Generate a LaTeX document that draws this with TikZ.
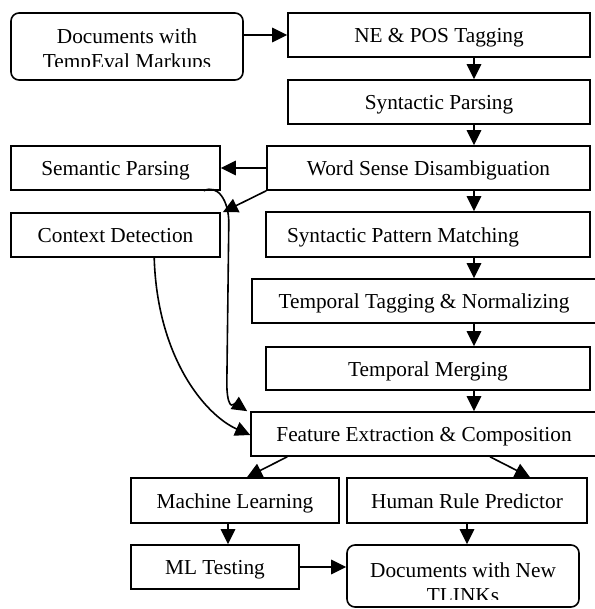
\documentclass[tikz,border=0pt]{standalone}
\usepackage{fontspec}
\setmainfont{Liberation Serif}
\usetikzlibrary{arrows.meta,calc}
\begin{document}
\begin{tikzpicture}[x=1pt,y=-1pt,
  box/.style={draw, line width=1.6pt, inner sep=0pt, minimum height=44pt, text height=16pt, text depth=1pt, font=\fontsize{21.3}{25}\selectfont},
  rbox/.style={draw, line width=1.6pt, inner sep=0pt, rounded corners=8pt},
  txt/.style={inner sep=0pt, align=center, font=\fontsize{21.3}{25}\selectfont},
  arr/.style={line width=1.6pt, -{Triangle[length=15pt,width=14.5pt]}}]
\useasboundingbox (0,0) rectangle (594,609);
% boxes
\node[rbox, minimum width=232pt, minimum height=67pt] (docs) at (127,46.5) {};
\begin{scope}
  \clip (11,13) rectangle (243,67);
  \node[txt] (docst) at (127,51) {Documents with\\TempEval Markups};
\end{scope}
\node[box, minimum width=302pt] (ne) at (439,35) {NE \& POS Tagging};
\node[box, minimum width=302pt] (syn) at (439,102) {Syntactic Parsing};
\node[box, minimum width=323pt] (wsd) at (428.5,168) {Word Sense Disambiguation};
\node[box, minimum width=209pt] (sem) at (115.5,168) {Semantic Parsing};
\node[box, minimum width=209pt] (ctx) at (115.5,235) {Context Detection};
\node[box, minimum width=324pt, minimum height=45pt, text width=282pt, align=flush left, inner xsep=21pt] (spm) at (428,234.5) {Syntactic Pattern Matching};
\node[box, minimum width=344pt] (tt) at (424,301) {Temporal Tagging \& Normalizing};
\node[box, minimum width=324pt, minimum height=43pt] (tm) at (428,368.5) {Temporal Merging};
\node[box, minimum width=346pt] (fe) at (424,434) {Feature Extraction \& Composition};
\node[box, minimum width=208pt, minimum height=45pt] (ml) at (235,500.5) {Machine Learning};
\node[box, minimum width=240pt, minimum height=45pt] (hrp) at (467,500.5) {Human Rule Predictor};
\node[box, minimum width=168pt] (mlt) at (215,567) {ML Testing};
\node[rbox, minimum width=232pt, minimum height=62pt] (docs2) at (463,576) {};
\begin{scope}
  \clip (347,545) rectangle (579,599);
  \node[txt] (docs2t) at (463,583) {Documents with New\\TLINKs};
\end{scope}
% column coordinate
\coordinate (col) at (474,0);
% arrows
\draw[arr] (docs.east |- ne.west) -- (ne.west);
\draw[arr] (ne.south -| col) -- (syn.north -| col);
\draw[arr] (syn.south -| col) -- (wsd.north -| col);
\draw[arr] (wsd.south -| col) -- (spm.north -| col);
\draw[arr] (spm.south -| col) -- (tt.north -| col);
\draw[arr] (tt.south -| col) -- (tm.north -| col);
\draw[arr] (tm.south -| col) -- (fe.north -| col);
\draw[arr] (wsd.west) -- (sem.east);
\draw[arr] (wsd.south west) -- ([xshift=2pt]ctx.north east);
\draw[arr] ([xshift=-17pt]sem.south east) .. controls +(14,-7) and +(0,-22) .. ($(sem.south east)+(8,32)$)
   -- ($(sem.south east)+(6,195)$) .. controls +(1,28) and +(-12,-8) .. ([xshift=-3pt]fe.north west);
\draw[arr] ([xshift=144pt]ctx.south west) .. controls +(3,100) and +(-45,-20) .. ([yshift=-1pt]fe.west);
\draw[arr] ([xshift=37pt]fe.south west) -- ([xshift=12pt]ml.north);
\draw[arr] ([xshift=66pt]fe.south) -- ([xshift=63pt]hrp.north);
\draw[arr] ([xshift=-7pt]ml.south) -- ([xshift=-7pt]ml.south |- mlt.north);
\draw[arr] (hrp.south) -- (hrp.south |- docs2.north);
\draw[arr] (mlt.east) -- (mlt.east -| docs2.west);
\end{tikzpicture}
\end{document}
